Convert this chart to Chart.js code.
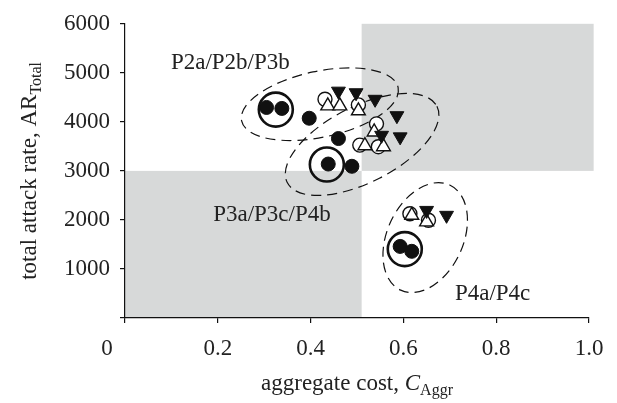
<!DOCTYPE html>
<html>
<head>
<meta charset="utf-8">
<script src="https://cdn.jsdelivr.net/npm/chart.js@4.4.1/dist/chart.umd.min.js"></script>
<style>
  html, body { margin: 0; padding: 0; background: #fff; }
  canvas { display: block; }
</style>
</head>
<body>
<canvas id="chart" width="617" height="403"></canvas>
<script>
// Axis ticks
const xTicks = [0, 0.2, 0.4, 0.6, 0.8, 1.0];
const xTickLabels = ['0', '0.2', '0.4', '0.6', '0.8', '1.0'];
const yTicks = [0, 1000, 2000, 3000, 4000, 5000, 6000];
const yTickLabels = ['', '1000', '2000', '3000', '4000', '5000', '6000'];

// Filled circles
const filledCost = [0.305, 0.338, 0.397, 0.460, 0.438, 0.489, 0.593, 0.618];
const filledRate = [4294, 4274, 4074, 3660, 3140, 3094, 1460, 1360];

// Ringed (highlighted) policies
const ringCost = [0.325, 0.435, 0.603];
const ringRate = [4250, 3130, 1405];

// Open circles
const openCost = [0.431, 0.503, 0.542, 0.506, 0.546, 0.614, 0.654];
const openRate = [4460, 4346, 3960, 3526, 3494, 2126, 1994];

// Open triangles
const upCost = [0.437, 0.463, 0.503, 0.537, 0.517, 0.557, 0.618, 0.650];
const upRate = [4326, 4326, 4226, 3794, 3514, 3494, 2094, 1960];

// Filled downward triangles
const downCost = [0.460, 0.498, 0.539, 0.586, 0.553, 0.593, 0.650, 0.693];
const downRate = [4626, 4594, 4460, 4126, 3726, 3694, 2194, 2094];

// Shaded zones (cost range, attack-rate range)
const zoneCost = [[0, 0.51], [0.51, 1.01]];
const zoneRate = [[0, 3000], [3000, 6000]];

// Policy groups: names, label anchor, grouping ellipse centre
const groupNames = ['P2a/P2b/P3b', 'P3a/P3c/P4b', 'P4a/P4c'];
const groupLabelCost = [0.099, 0.190, 0.711];
const groupLabelRate = [5200, 2100, 500];
const groupCenterCost = [0.420, 0.511, 0.647];
const groupCenterRate = [4360, 3540, 1640];

const SERIF = "'Liberation Serif', 'Times New Roman', serif";
const INK = '#111';

// Ellipse shape (pixels, degrees) per group
const ellipseShape = [
  { rx: 80, ry: 33, rot: -12 },
  { rx: 84, ry: 38, rot: -27 },
  { rx: 58, ry: 38, rot: -65 }
];

const pts = (xs, ys) => xs.map((x, i) => ({ x: x, y: ys[i] }));

function drawRich(ctx, parts, x, y, align) {
  let w = 0;
  parts.forEach(p => { ctx.font = p.font; w += ctx.measureText(p.t).width; });
  let cx = align === 'center' ? x - w / 2 : x;
  parts.forEach(p => {
    ctx.font = p.font;
    ctx.fillText(p.t, cx, y + (p.dy || 0));
    cx += ctx.measureText(p.t).width;
  });
}

const decor = {
  id: 'decor',
  beforeDraw(chart) {
    const { ctx, scales: { x, y } } = chart;
    ctx.save();
    ctx.fillStyle = '#fff';
    ctx.fillRect(0, 0, chart.width, chart.height);
    ctx.fillStyle = '#d7d9d9';
    zoneCost.forEach((c, i) => {
      const x0 = x.getPixelForValue(c[0]), x1 = x.getPixelForValue(c[1]);
      const y0 = y.getPixelForValue(zoneRate[i][1]), y1 = y.getPixelForValue(zoneRate[i][0]);
      ctx.fillRect(x0, y0, x1 - x0, y1 - y0);
    });
    ctx.restore();
  },
  beforeDatasetsDraw(chart) {
    const { ctx, scales: { x, y } } = chart;
    ctx.save();
    // grouping ellipses
    ctx.strokeStyle = INK;
    ctx.lineWidth = 1.2;
    ctx.setLineDash([10, 6]);
    groupCenterCost.forEach((c, i) => {
      const s = ellipseShape[i];
      ctx.beginPath();
      ctx.ellipse(x.getPixelForValue(c), y.getPixelForValue(groupCenterRate[i]),
        s.rx, s.ry, s.rot * Math.PI / 180, 0, Math.PI * 2);
      ctx.stroke();
    });
    ctx.setLineDash([]);

    // group names
    ctx.fillStyle = '#222';
    ctx.font = '23px ' + SERIF;
    ctx.textBaseline = 'middle';
    ctx.textAlign = 'left';
    groupNames.forEach((n, i) => {
      ctx.fillText(n, x.getPixelForValue(groupLabelCost[i]), y.getPixelForValue(groupLabelRate[i]));
    });

    // shared origin label
    ctx.textAlign = 'center';
    ctx.fillText(xTickLabels[0], x.left - 18, y.bottom + 31);

    // axis titles
    ctx.textAlign = 'left';
    ctx.textBaseline = 'alphabetic';
    drawRich(ctx, [
      { t: 'aggregate cost, ', font: '23px ' + SERIF },
      { t: 'C', font: 'italic 23px ' + SERIF },
      { t: 'Aggr', font: '16px ' + SERIF, dy: 5 }
    ], (x.left + x.right) / 2, 390, 'center');

    ctx.save();
    ctx.translate(36, (y.top + y.bottom) / 2);
    ctx.rotate(-Math.PI / 2);
    drawRich(ctx, [
      { t: 'total attack rate, AR', font: '23px ' + SERIF },
      { t: 'Total', font: '16px ' + SERIF, dy: 5 }
    ], 0, 0, 'center');
    ctx.restore();
    ctx.restore();
  }
};

const axisCommon = {
  grid: { drawOnChartArea: false, drawTicks: true, tickLength: 5, color: INK, lineWidth: 1.2 },
  border: { display: true, color: INK, width: 1.2 },
  ticks: { color: '#222', font: { family: SERIF, size: 23 } }
};

new Chart(document.getElementById('chart'), {
  type: 'scatter',
  data: {
    datasets: [
      { label: 'down', data: pts(downCost, downRate), order: 0,
        pointStyle: 'triangle', rotation: 180, pointRadius: 8,
        backgroundColor: INK, borderColor: INK, borderWidth: 1 },
      { label: 'up', data: pts(upCost, upRate), order: 1,
        pointStyle: 'triangle', pointRadius: 8,
        backgroundColor: '#fff', borderColor: INK, borderWidth: 1.4 },
      { label: 'open', data: pts(openCost, openRate), order: 2,
        pointStyle: 'circle', pointRadius: 7,
        backgroundColor: '#fff', borderColor: INK, borderWidth: 1.4 },
      { label: 'ring', data: pts(ringCost, ringRate), order: 3,
        pointStyle: 'circle', pointRadius: 17,
        backgroundColor: 'rgba(0,0,0,0)', borderColor: INK, borderWidth: 2.6 },
      { label: 'filled', data: pts(filledCost, filledRate), order: 4,
        pointStyle: 'circle', pointRadius: 7,
        backgroundColor: INK, borderColor: INK, borderWidth: 1 }
    ]
  },
  options: {
    responsive: false,
    animation: false,
    events: [],
    layout: { padding: { left: 0, top: 18, right: 28, bottom: 0 } },
    plugins: { legend: { display: false }, tooltip: { enabled: false } },
    scales: {
      x: {
        type: 'linear', min: 0, max: 1,
        ...axisCommon,
        ticks: { ...axisCommon.ticks, padding: 12, maxRotation: 0,
          callback: (v, i) => i === 0 ? '' : xTickLabels[i] },
        afterBuildTicks: s => { s.ticks = xTicks.map(v => ({ value: v })); },
        afterFit: s => { s.height = 85; }
      },
      y: {
        type: 'linear', min: 0, max: 6000,
        ...axisCommon,
        ticks: { ...axisCommon.ticks, padding: 10,
          callback: (v, i) => yTickLabels[i] },
        afterBuildTicks: s => { s.ticks = yTicks.map(v => ({ value: v })); },
        afterFit: s => { s.width = 125; }
      }
    }
  },
  plugins: [decor]
});
</script>
</body>
</html>
